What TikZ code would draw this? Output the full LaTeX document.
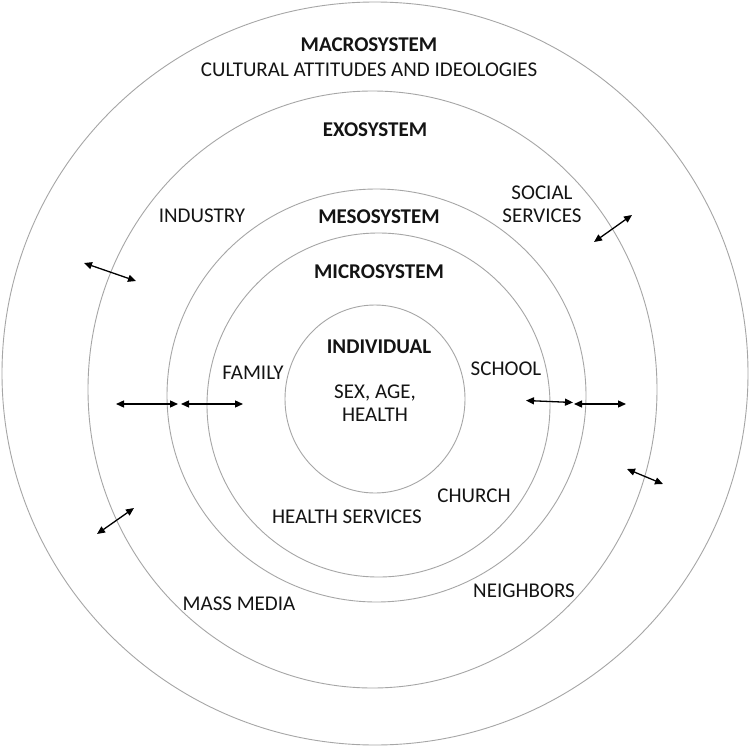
\documentclass[tikz,border=0pt]{standalone}
\usepackage{fontspec}
\setmainfont{Carlito}
\usetikzlibrary{arrows.meta}
\tikzset{
  ring/.style={draw=gray!70, line width=0.9pt},
  lbl/.style={text=black!92, font=\fontsize{21}{23}\selectfont, align=center, inner sep=0pt},
  blbl/.style={lbl, font=\fontsize{21}{23}\selectfont\bfseries},
  link/.style={line width=1.3pt, {Triangle[length=8pt,width=7pt]}-{Triangle[length=8pt,width=7pt]}}
}
\begin{document}
\begin{tikzpicture}[x=1pt,y=-1pt]
\useasboundingbox (0,0) rectangle (750,747);
\fill[white] (0,0) rectangle (750,747);
% rings
\draw[ring] (375,373.5) ellipse [x radius=373, y radius=371.5];
\draw[ring] (372.5,389.5) ellipse [x radius=284.5, y radius=298.5];
\draw[ring] (376.5,395.5) ellipse [x radius=209.5, y radius=206.5];
\draw[ring] (378.5,405) ellipse [x radius=171.5, y radius=172];
\draw[ring] (375,399) ellipse [x radius=90, y radius=94];
% labels
\node[blbl] (macro) at (369,45) {MACROSYSTEM};
\node[lbl] (cult) at (369,70) {CULTURAL ATTITUDES AND IDEOLOGIES};
\node[blbl] (exo) at (375,130) {EXOSYSTEM};
\node[lbl] (industry) at (202,216) {INDUSTRY};
\node[lbl] (social) at (542,204) {SOCIAL\\SERVICES};
\node[blbl] (meso) at (379,217) {MESOSYSTEM};
\node[blbl] (micro) at (379,272) {MICROSYSTEM};
\node[blbl] (indiv) at (379,347) {INDIVIDUAL};
\node[lbl] (family) at (253,373) {FAMILY};
\node[lbl] (sex) at (375,403) {SEX, AGE,\\HEALTH};
\node[lbl] (school) at (506,369) {SCHOOL};
\node[lbl] (church) at (474,496) {CHURCH};
\node[lbl] (health) at (347,517) {HEALTH SERVICES};
\node[lbl] (neigh) at (524,591) {NEIGHBORS};
\node[lbl] (mass) at (239,604) {MASS MEDIA};
% arrow end points
\coordinate (a1s) at (84,263);   \coordinate (a1e) at (136,281);
\coordinate (a2s) at (116,404);  \coordinate (a2e) at (178,404);
\coordinate (a3s) at (181,404);  \coordinate (a3e) at (243,404);
\coordinate (a4s) at (594,242);  \coordinate (a4e) at (632,215);
\coordinate (a5s) at (526,400.5);\coordinate (a5e) at (573,402.5);
\coordinate (a6s) at (574,404);  \coordinate (a6e) at (626,404);
\coordinate (a7s) at (627,469);  \coordinate (a7e) at (663,484);
\coordinate (a8s) at (97,534);   \coordinate (a8e) at (134,508);
\draw[link] (a1s) -- (a1e);
\draw[link] (a2s) -- (a2e);
\draw[link] (a3s) -- (a3e);
\draw[link] (a4s) -- (a4e);
\draw[link] (a5s) -- (a5e);
\draw[link] (a6s) -- (a6e);
\draw[link] (a7s) -- (a7e);
\draw[link] (a8s) -- (a8e);
\end{tikzpicture}
\end{document}
